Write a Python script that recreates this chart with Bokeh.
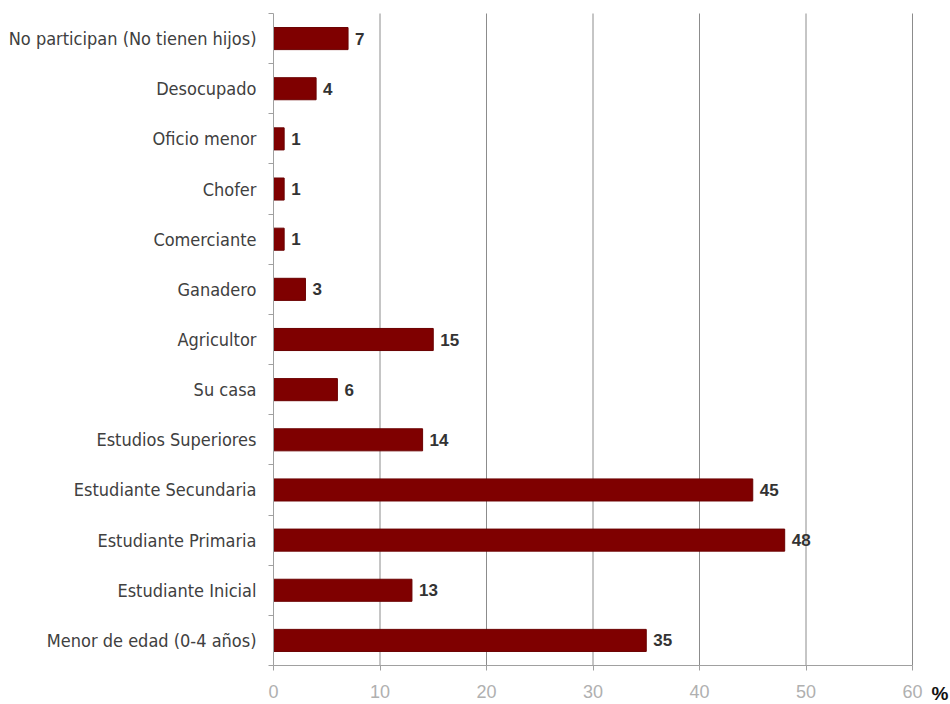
from bokeh.plotting import figure
from bokeh.models import FixedTicker, ColumnDataSource, Label, Range1d
from bokeh.core.properties import value
from bokeh.embed import file_html
from bokeh.resources import INLINE

categories = [
    "No participan (No tienen hijos)",
    "Desocupado",
    "Oficio menor",
    "Chofer",
    "Comerciante",
    "Ganadero",
    "Agricultor",
    "Su casa",
    "Estudios Superiores",
    "Estudiante Secundaria",
    "Estudiante Primaria",
    "Estudiante Inicial",
    "Menor de edad (0-4 años)",
]
values = [7, 4, 1, 1, 1, 3, 15, 6, 14, 45, 48, 13, 35]
x_ticks = [0, 10, 20, 30, 40, 50, 60]

n = len(categories)
ypos = [n - 1 - i for i in range(n)]
src = ColumnDataSource(dict(y=ypos, v=values, lab=[str(v) for v in values]))

# layout: plot area 273..912 px horizontally, 13..665 px vertically;
# the frame fills the whole canvas and the axes are drawn at fixed locations
W, H = 950, 704
left_px, right_px, top_px, bottom_px = 273, 912, 13, 665
xmax = 60
px_per_x = (right_px - left_px) / xmax
x_start = -left_px / px_per_x
x_end = (W - left_px) / px_per_x
row_px = (bottom_px - top_px) / n
y_start = -0.5 - (H - bottom_px) / row_px
y_end = n - 0.5 + top_px / row_px

p = figure(width=W, height=H, output_backend="svg", toolbar_location=None,
           x_range=Range1d(x_start, x_end), y_range=Range1d(y_start, y_end),
           min_border_left=0, min_border_right=0, min_border_top=0,
           min_border_bottom=0)
p.background_fill_color = "white"
p.border_fill_color = "white"
p.outline_line_color = None

# vertical grid lines limited to the plot area
p.segment(x0=x_ticks[1:], x1=x_ticks[1:], y0=-0.5, y1=n - 0.5,
          line_color="#8c8c8c", line_width=1)

p.hbar(y="y", right="v", left=0, height=0.44, source=src,
       fill_color="#7f0000", line_color="#6a0000", line_width=1)
p.text(x="v", y="y", text="lab", source=src, x_offset=7,
       text_font=value("Liberation Sans"), text_font_style="bold",
       text_font_size="17px", text_color="#333333", text_baseline="middle")

# x axis, drawn at the bottom of the plot area
p.xaxis.fixed_location = -0.5
p.xaxis.bounds = (0, xmax)
p.xaxis.ticker = FixedTicker(ticks=x_ticks)
p.xaxis.axis_line_color = "#a0a0a0"
p.xaxis.major_tick_line_color = "#a0a0a0"
p.xaxis.major_tick_in = 0
p.xaxis.major_tick_out = 5
p.xaxis.minor_tick_line_color = None
p.xaxis.major_label_text_color = "#b0b0b0"
p.xaxis.major_label_text_font = "Liberation Sans"
p.xaxis.major_label_text_font_size = "18px"
p.xaxis.major_label_standoff = 14

# y axis, drawn at x = 0
p.yaxis.fixed_location = 0
p.yaxis.bounds = (-0.5, n - 0.5)
p.yaxis.ticker = FixedTicker(ticks=ypos, minor_ticks=[i - 0.5 for i in range(n + 1)])
p.yaxis.major_label_overrides = {y: c for y, c in zip(ypos, categories)}
p.yaxis.axis_line_color = "#a0a0a0"
p.yaxis.major_tick_line_color = None
p.yaxis.minor_tick_line_color = "#a0a0a0"
p.yaxis.minor_tick_in = 0
p.yaxis.minor_tick_out = 5
p.yaxis.major_label_text_color = "#404040"
p.yaxis.major_label_text_font = "DejaVu Sans Condensed, Liberation Sans"
p.yaxis.major_label_text_font_size = "18px"
p.yaxis.major_label_standoff = 11

p.xgrid.grid_line_color = None
p.ygrid.grid_line_color = None

p.add_layout(Label(x=xmax, y=-0.5, x_offset=19, y_offset=-28, text="%",
                   text_baseline="middle", text_align="left",
                   text_font="Liberation Sans", text_font_style="bold",
                   text_font_size="19px", text_color="#111111"))

open("out.html", "w").write(file_html(p, INLINE))
